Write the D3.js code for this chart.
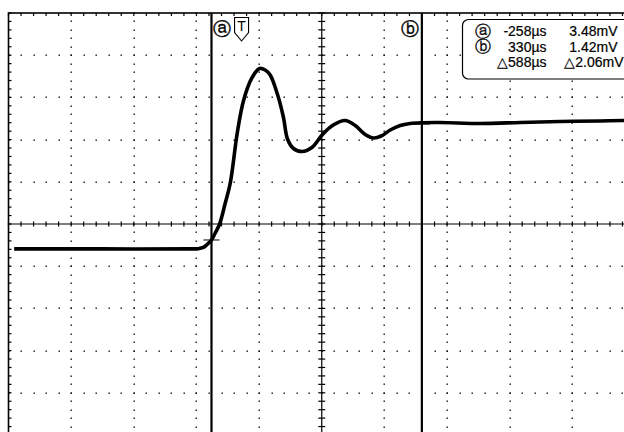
<!DOCTYPE html>
<html><head><meta charset="utf-8">
<script src="https://cdn.jsdelivr.net/npm/d3@7"></script>
<style>
html,body{margin:0;padding:0;background:#fff;}
svg{display:block;}
text{font-family:"Liberation Sans",Arial,sans-serif;fill:#000;}
</style></head>
<body>
<svg id="chart" width="624" height="432"></svg>
<script>
// ---- data (grid divisions: x 0..10, y -5..5) ----
const traceX = [0.09, 1.46, 2.90, 3.03, 3.11, 3.17, 3.24, 3.30, 3.37, 3.46, 3.54, 3.65, 3.75, 3.885, 4.006, 4.097, 4.177, 4.294, 4.389, 4.453, 4.549, 4.683, 4.843, 5.012, 5.183, 5.374, 5.534, 5.693, 5.826, 5.949, 6.093, 6.252, 6.412, 6.598, 6.89, 7.53, 8.17, 8.80, 9.44, 9.83];
const traceY = [-0.59, -0.59, -0.59, -0.585, -0.555, -0.485, -0.379, -0.213, 0.0, 0.498, 0.972, 2.145, 2.915, 3.46, 3.685, 3.649, 3.531, 3.069, 2.524, 2.014, 1.789, 1.718, 1.813, 2.121, 2.346, 2.453, 2.334, 2.121, 2.038, 2.085, 2.227, 2.334, 2.382, 2.40, 2.405, 2.382, 2.405, 2.429, 2.441, 2.453];
const cursorNames = ["ⓐ", "ⓑ"];
const cursorX = [3.24, 6.598];
const cursorLevel = [-0.379, 2.37];
const triggerX = 3.72;
const readoutNames = ["ⓐ", "ⓑ", ""];
const readoutTime = ["-258µs", "330µs", "△588µs"];
const readoutVolt = ["3.48mV", "1.42mV", "△2.06mV"];
const xDivs = 10, yDivs = 10, minorPerDiv = 5;

// ---- scales ----
const svg = d3.select("#chart");
const x = d3.scaleLinear().domain([0, xDivs]).range([8.5, 8.5 + 626.5]);
const y = d3.scaleLinear().domain([-yDivs / 2, yDivs / 2]).range([13 + 422, 13]);

const g = svg.append("g");
const minorX = d3.range(0, xDivs * minorPerDiv + 1).map(i => i / minorPerDiv);
const minorY = d3.range(0, yDivs * minorPerDiv + 1).map(i => -yDivs / 2 + i / minorPerDiv);
const majorX = d3.range(1, xDivs);
const majorY = d3.range(-yDivs / 2 + 1, yDivs / 2).filter(v => v !== 0);

// dotted grid
const dots = [];
majorY.forEach(v => minorX.forEach(u => dots.push([u, v])));
majorX.filter(u => u !== 5).forEach(u => minorY.forEach(v => dots.push([u, v])));
g.selectAll("rect.dot").data(dots).join("rect")
  .attr("class", "dot")
  .attr("x", d => Math.round(x(d[0])) - 0.5).attr("y", d => Math.round(y(d[1])) - 0.5)
  .attr("width", 1.4).attr("height", 1.4).attr("fill", "#111");

// center axes
g.append("line").attr("x1", x(0)).attr("x2", x(xDivs)).attr("y1", y(0)).attr("y2", y(0))
  .attr("stroke", "#000").attr("stroke-width", 1.2);
g.append("line").attr("x1", x(5)).attr("x2", x(5)).attr("y1", y(5)).attr("y2", y(-5))
  .attr("stroke", "#000").attr("stroke-width", 1.2);
g.selectAll("line.hx").data(minorX).join("line").attr("class", "hx")
  .attr("x1", d => x(d)).attr("x2", d => x(d)).attr("y1", y(0) - 2.5).attr("y2", y(0) + 2.5)
  .attr("stroke", "#000").attr("stroke-width", 1.2);
g.selectAll("line.vy").data(minorY).join("line").attr("class", "vy")
  .attr("x1", x(5) - 3.5).attr("x2", x(5) + 3.5).attr("y1", d => y(d)).attr("y2", d => y(d))
  .attr("stroke", "#000").attr("stroke-width", 1.2);

// border + border ticks
g.append("rect").attr("x", x(0)).attr("y", y(5)).attr("width", x(xDivs) - x(0)).attr("height", y(-5) - y(5))
  .attr("fill", "none").attr("stroke", "#000").attr("stroke-width", 1.6);
g.selectAll("line.tt").data(minorX).join("line").attr("class", "tt")
  .attr("x1", d => x(d)).attr("x2", d => x(d)).attr("y1", y(5)).attr("y2", y(5) + 3)
  .attr("stroke", "#000").attr("stroke-width", 1.2);
g.selectAll("line.lt").data(minorY).join("line").attr("class", "lt")
  .attr("x1", x(0)).attr("x2", x(0) + 3).attr("y1", d => y(d)).attr("y2", d => y(d))
  .attr("stroke", "#000").attr("stroke-width", 1.2);

// cursors
g.selectAll("line.cur").data(cursorX).join("line").attr("class", "cur")
  .attr("x1", d => x(d)).attr("x2", d => x(d)).attr("y1", y(5)).attr("y2", y(-5))
  .attr("stroke", "#000").attr("stroke-width", 2.2);
g.selectAll("line.curm").data(cursorX).join("line").attr("class", "curm")
  .attr("x1", d => x(d) - 8).attr("x2", d => x(d) + 8)
  .attr("y1", (d, i) => y(cursorLevel[i])).attr("y2", (d, i) => y(cursorLevel[i]))
  .attr("stroke", "#000").attr("stroke-width", 1);
g.selectAll("text.curl").data(cursorX).join("text").attr("class", "curl")
  .attr("x", (d, i) => i === 0 ? x(d) + 11 : x(d) - 12)
  .attr("y", y(5) + 21.5).attr("text-anchor", "middle")
  .attr("font-family", "DejaVu Sans").attr("font-size", 18)
  .attr("stroke", "#000").attr("stroke-width", 0.4)
  .text((d, i) => cursorNames[i]);

// trigger marker
const tx = x(triggerX), ty = y(5) + 4.5;
g.append("path")
  .attr("d", `M${tx - 7},${ty} H${tx + 7} V${ty + 15} L${tx},${ty + 23.5} L${tx - 7},${ty + 15} Z`)
  .attr("fill", "#fff").attr("stroke", "#000").attr("stroke-width", 1.1);
g.append("text").attr("x", tx).attr("y", ty + 13.5).attr("text-anchor", "middle")
  .attr("font-size", 14).text("T");

// trace
const line = d3.line().x((d, i) => x(traceX[i])).y((d, i) => y(traceY[i]))
  .curve(d3.curveCatmullRom.alpha(0.5));
g.append("path").datum(traceX).attr("d", line)
  .attr("fill", "none").attr("stroke", "#000").attr("stroke-width", 3.6)
  .attr("stroke-linejoin", "round").attr("stroke-linecap", "butt");

// readout box
const bx = 462.5, by = 19.5;
g.append("rect").attr("x", bx).attr("y", by).attr("width", 200).attr("height", 59.5).attr("rx", 6)
  .attr("fill", "#fff").attr("stroke", "#000").attr("stroke-width", 1.2);
const rows = d3.range(3);
g.selectAll("text.rn").data(rows).join("text").attr("class", "rn")
  .attr("x", bx + 20).attr("y", d => by + 17 + d * 15.5).attr("text-anchor", "middle")
  .attr("font-family", "DejaVu Sans").attr("font-size", 16)
  .attr("stroke", "#000").attr("stroke-width", 0.3)
  .text(d => readoutNames[d]);
g.selectAll("text.rt").data(rows).join("text").attr("class", "rt")
  .attr("x", bx + 84).attr("y", d => by + 16.5 + d * 15.5).attr("text-anchor", "end")
  .attr("font-size", 14).attr("stroke", "#000").attr("stroke-width", 0.2)
  .text(d => readoutTime[d]);
g.selectAll("text.rv").data(rows).join("text").attr("class", "rv")
  .attr("x", d => d === 2 ? bx + 161 : bx + 155).attr("y", d => by + 16.5 + d * 15.5).attr("text-anchor", "end")
  .attr("font-size", 14).attr("stroke", "#000").attr("stroke-width", 0.2)
  .text(d => readoutVolt[d]);
</script>
</body></html>
